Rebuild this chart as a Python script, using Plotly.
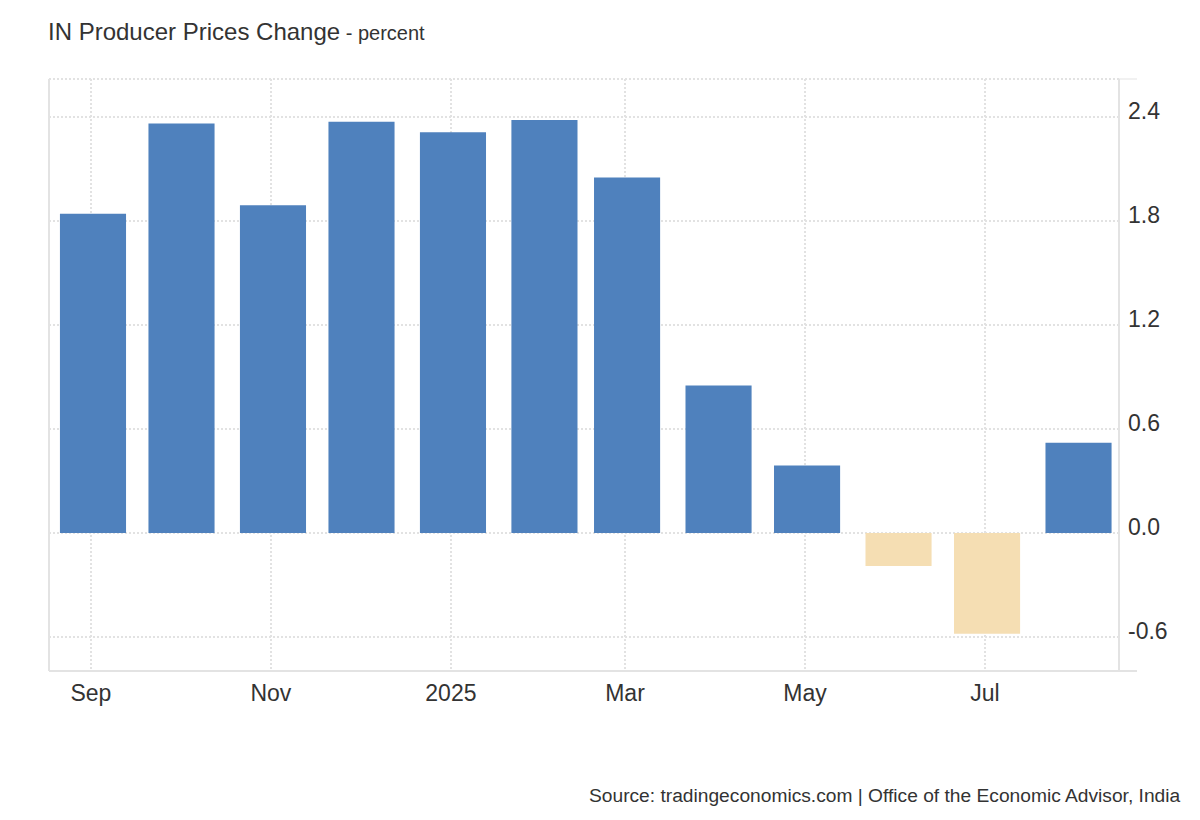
import plotly.graph_objects as go

months = ["2024-09-01", "2024-10-01", "2024-11-01", "2024-12-01", "2025-01-01", "2025-02-01",
          "2025-03-01", "2025-04-01", "2025-05-01", "2025-06-01", "2025-07-01", "2025-08-01"]
values = [1.84, 2.36, 1.89, 2.37, 2.31, 2.38, 2.05, 0.85, 0.39, -0.19, -0.58, 0.52]
y_ticks = [-0.6, 0.0, 0.6, 1.2, 1.8, 2.4]
y_tick_labels = ["-0.6", "0.0", "0.6", "1.2", "1.8", "2.4"]
x_ticks = ["2024-09-01", "2024-11-01", "2025-01-01", "2025-03-01", "2025-05-01", "2025-07-01"]
x_tick_labels = ["Sep", "Nov", "2025", "Mar", "May", "Jul"]

POS = "#4f81bd"
NEG = "#f5deb3"
colors = [POS if v >= 0 else NEG for v in values]
DAY = 86400000
GRID = "#e2e2e2"
AXIS = "#e3e3e3"

fig = go.Figure(go.Bar(x=months, y=values, marker=dict(color=colors, line=dict(width=0)),
                       width=[22.4 * DAY] * len(values), offset=-10.5 * DAY))

fig.update_layout(
    width=1184, height=804,
    paper_bgcolor="white", plot_bgcolor="white",
    margin=dict(l=41, r=73, t=71, b=141),
    font=dict(family="Liberation Sans, Arial, sans-serif", color="#333333", size=24),
    showlegend=False,
    title=dict(text="IN Producer Prices Change<span style='font-size:20px'> - percent</span>",
               x=40 / 1184, xanchor="left", y=1 - 24 / 804, yanchor="middle",
               font=dict(size=24, color="#333333")),
    xaxis=dict(type="date", range=["2024-08-17 19:00", "2025-08-15 10:00"],
               tickvals=x_ticks, ticktext=x_tick_labels,
               showgrid=True, gridcolor=GRID, griddash="2px,2px", gridwidth=2,
               showline=False, zeroline=False, ticks="", ticklabelstandoff=6,
               tickfont=dict(size=23, color="#333333")),
    yaxis=dict(side="right", range=[-0.795, 2.617], tickvals=y_ticks, ticktext=y_tick_labels,
               showgrid=True, gridcolor=GRID, griddash="2px,2px",
               gridwidth=2, zeroline=False, showline=False, ticks="",
               ticklabelstandoff=8, ticklabelshift=-6,
               tickfont=dict(size=23, color="#333333")),
    shapes=[
        dict(type="line", xref="paper", yref="paper", x0=0, x1=1, y0=1, y1=1,
             line=dict(color=GRID, width=2, dash="2px,2px")),
        dict(type="line", xref="paper", yref="paper", x0=0, x1=0, y0=0, y1=1,
             line=dict(color=AXIS, width=2)),
        dict(type="line", xref="paper", yref="paper", x0=1, x1=1, y0=0, y1=1,
             line=dict(color=AXIS, width=2)),
        dict(type="line", xref="paper", yref="paper", x0=0, x1=1.0168, y0=0, y1=0,
             line=dict(color=AXIS, width=2)),
        dict(type="line", xref="paper", yref="paper", x0=1, x1=1.0168, y0=1, y1=1,
             line=dict(color=AXIS, width=1)),
    ],
    annotations=[
        dict(text="Source: tradingeconomics.com | Office of the Economic Advisor, India",
             xref="paper", yref="paper", x=(1175 - 41) / 1070, xanchor="right",
             y=-(787 - 663) / 592, yanchor="middle",
             showarrow=False, font=dict(size=19.2, color="#333333")),
    ],
)

fig.write_html("out.html")
